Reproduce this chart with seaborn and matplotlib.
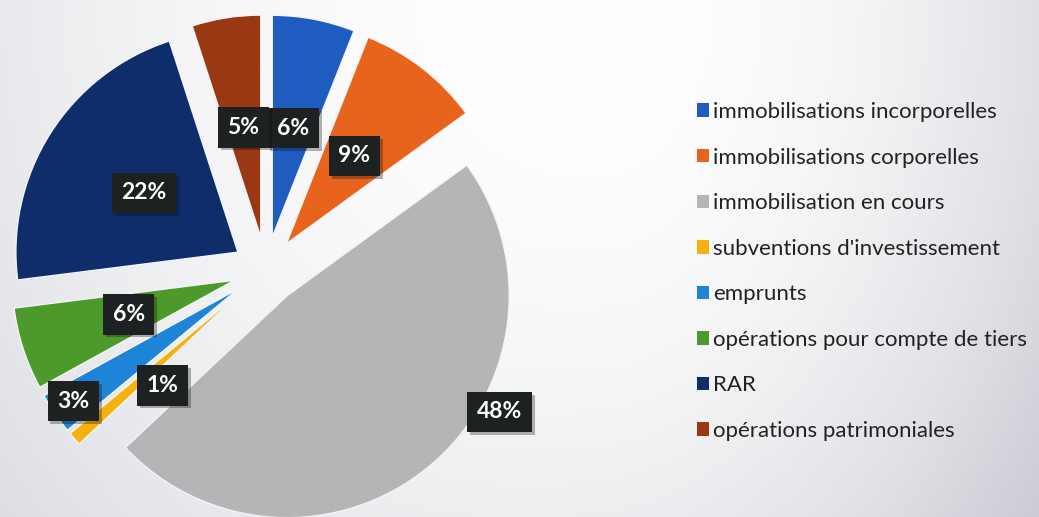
import numpy as np
import matplotlib
matplotlib.use("Agg")
import matplotlib.pyplot as plt
import matplotlib.patheffects as pe
import seaborn as sns

# ---- data ----
categories = [
    "immobilisations incorporelles",
    "immobilisations corporelles",
    "immobilisation en cours",
    "subventions d'investissement",
    "emprunts",
    "opérations pour compte de tiers",
    "RAR",
    "opérations patrimoniales",
]
values = [6, 9, 48, 1, 3, 6, 22, 5]
colors = ["#1f5cbf", "#e8641c", "#b5b5b7", "#f5b10d",
          "#1e84d8", "#4b9a2b", "#0f2d6b", "#993812"]

# label placement (distance from slice apex, angular shift in degrees)
label_dist = [0.5, 0.5, 1.09, 0.55, 0.9, 0.5, 0.5, 0.5]
label_shift = [0, 0, 21.7, 8.6, 0, 0, 0, 0]

sns.set_theme(style="white")
plt.rcParams["font.family"] = ["Lato", "DejaVu Sans"]

W, H = 1039, 517
fig = plt.figure(figsize=(W / 100, H / 100), dpi=100)

# background gradient
bg = fig.add_axes([0, 0, 1, 1])
yy, xx = np.mgrid[0:H, 0:W].astype(float)
dx = (xx - 600) / np.where(xx < 600, 600, 439)
wx = np.where(xx < 600, 0.09, 0.13)
wy = 0.05 + 0.04 * (xx / W)
d = wx * dx ** 2 + wy * (yy / H) ** 2
img = np.dstack([1 - d * 0.95, 1 - d * 0.93, 1 - d * 0.78])
bg.imshow(np.clip(img, 0, 1), aspect="auto", extent=[0, W, H, 0])
bg.axis("off")

ax = fig.add_axes([0, 0, 1, 1])
ax.patch.set_alpha(0)
R = 222.0
cx, cy = 266.0, 270.0

pal = sns.color_palette(colors)
wedges, texts, autotexts = ax.pie(
    values, colors=pal, startangle=90, counterclock=False,
    explode=[0.15] * len(values), radius=1,
    autopct=lambda p: f"{p:.0f}%", pctdistance=0.5,
    wedgeprops=dict(edgecolor="#f4f4f6", linewidth=1.0),
    textprops=dict(color="white", fontsize=16.5, fontweight="bold"),
)
ax.set_xlim(-cx / R, (W - cx) / R)
ax.set_ylim(-(H - cy) / R, cy / R)
ax.set_aspect("auto")
ax.axis("off")

for w, t, dist, sh in zip(wedges, autotexts, label_dist, label_shift):
    ang = np.deg2rad((w.theta1 + w.theta2) / 2 + sh)
    x0, y0 = w.center
    t.set_position((x0 + dist * np.cos(ang), y0 + dist * np.sin(ang)))
    t.set_bbox(dict(boxstyle="square,pad=0.42", facecolor="#1d2122",
                    edgecolor="none"))
    t.get_bbox_patch().set_path_effects(
        [pe.SimplePatchShadow(offset=(2, -2), alpha=0.3), pe.Normal()])
    t.set_zorder(5)

leg = ax.legend(
    wedges, categories, loc="upper left",
    bbox_to_anchor=(697 / W, 1 - 102 / H), bbox_transform=fig.transFigure,
    frameon=False, fontsize=16, handlelength=0.55, handleheight=0.55,
    handletextpad=0.18, labelspacing=1.15, borderaxespad=0, borderpad=0,
)
for txt in leg.get_texts():
    txt.set_color("#222222")
for h in leg.legend_handles:
    h.set_edgecolor("none")

fig.savefig("out.png", dpi=100)
